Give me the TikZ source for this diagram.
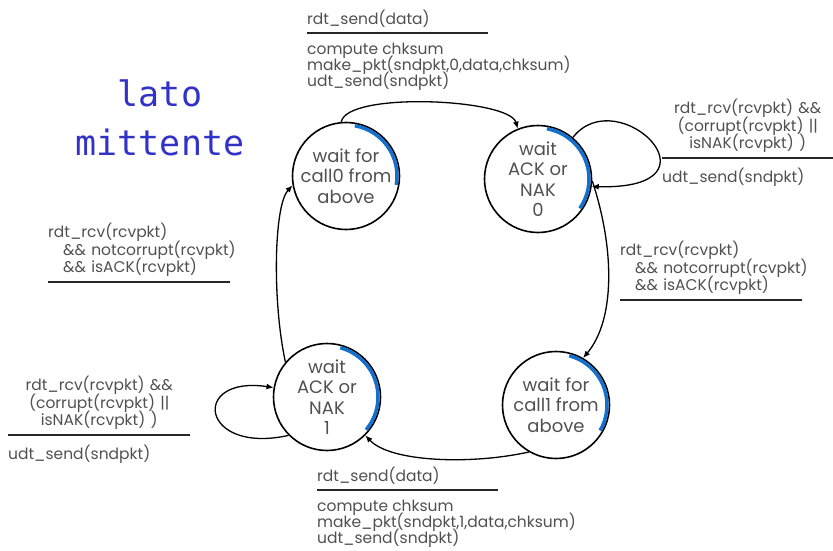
\documentclass[tikz,border=0pt]{standalone}
\usepackage{fontspec}
\setmainfont{Poppins}
\newfontfamily\monofont{DejaVu Sans Mono}
\usetikzlibrary{arrows.meta, positioning}
\definecolor{txtgray}{RGB}{80,80,80}
\definecolor{shadeblue}{RGB}{20,112,205}
\definecolor{titleblue}{RGB}{50,50,200}
\newcommand{\tight}[2]{\fontsize{#1}{#2}\selectfont\lineskiplimit=-20pt\hyphenpenalty=10000}
\tikzstyle{state}=[draw, circle, line width=1.6pt, minimum size=107pt, inner sep=0pt, align=center, text=txtgray, font=\tight{18}{20.5}]
\tikzstyle{cond}=[anchor=south west, inner xsep=0pt, inner ysep=5pt, text=txtgray, font=\tight{15.5}{17.5}]
\tikzstyle{act}=[anchor=north west, inner xsep=0pt, inner ysep=10pt, align=left, text=txtgray, font=\tight{15.5}{16}]
\tikzstyle{bar}=[line width=2.2pt, black!85]
\tikzstyle{edge}=[-{Latex[length=7pt,width=6pt]}, line width=1.3pt]
\tikzstyle{crescent}=[shadeblue, line width=3.5pt]
\newcommand{\ind}{\hspace*{15pt}}

\begin{document}
\begin{tikzpicture}[x=1pt,y=1pt]
  \useasboundingbox (0,0) rectangle (833,550);
  \node[text=titleblue, align=center, font=\monofont\fontsize{35}{49}\selectfont] (side) at (160,432) {lato\\mittente};
  % states
  \node[state] (call0) at (346,374) {wait for\\call0 from\\above};
  \node[state] (ack0) at (538,371) {wait\\ACK or\\NAK\\0};
  \node[state] (call1) at (556,145) {wait for\\call1 from\\above};
  \node[state] (ack1) at (327,153) {wait\\ACK or\\NAK\\1};
  \foreach \s/\a/\b in {call0/80/-10, ack0/80/-35, ack1/75/-40, call1/75/-30}
    \draw[crescent] (\s.center) ++(\a:51) arc (\a:\b:51);
  % transitions
  \draw[edge] (call0.95) to[out=80, in=105, looseness=0.45] (ack0.112);
  \draw[edge] (ack0.50) .. controls (618,470) and (730,360) .. (ack0.-8);
  \draw[edge] (ack0.-2) .. controls (615,300) and (615,230) .. (call1.60);
  \draw[edge] (call1.240) .. controls (470,85) and (390,88) .. (ack1.-45);
  \draw[edge] (ack1.-135) .. controls (200,95) and (190,175) .. (ack1.170);
  \draw[edge] (ack1.140) .. controls (272,250) and (274,345) .. (call0.190);
  % guards and actions
  \node[cond, text width=181pt, align=left] (g0) at (307,517) {rdt\_send(data)};
  \draw[bar] (g0.south west) -- (g0.south east);
  \node[act] (a0) at (g0.south west) {compute chksum\\make\_pkt(sndpkt,0,data,chksum)\\udt\_send(sndpkt)};
  \node[cond, text width=171pt, align=center] (g1) at (662,392) {rdt\_rcv(rcvpkt)~\&\&\\(corrupt(rcvpkt)~||\\isNAK(rcvpkt)~)};
  \draw[bar] (g1.south west) -- (g1.south east);
  \node[act] (a1) at (g1.south west) {udt\_send(sndpkt)};
  \node[cond, text width=182pt, align=left] (g2) at (620,250) {rdt\_rcv(rcvpkt)\\\ind\&\&~notcorrupt(rcvpkt)\\\ind\&\&~isACK(rcvpkt)};
  \draw[bar] (g2.south west) -- (g2.south east);
  \node[cond, text width=181pt, align=left] (g3) at (317,60) {rdt\_send(data)};
  \draw[bar] (g3.south west) -- (g3.south east);
  \node[act] (a3) at (g3.south west) {compute chksum\\make\_pkt(sndpkt,1,data,chksum)\\udt\_send(sndpkt)};
  \node[cond, text width=182pt, align=center] (g4) at (8,115) {rdt\_rcv(rcvpkt)~\&\&\\(corrupt(rcvpkt)~||\\isNAK(rcvpkt)~)};
  \draw[bar] (g4.south west) -- (g4.south east);
  \node[act] (a4) at (g4.south west) {udt\_send(sndpkt)};
  \node[cond, text width=182pt, align=left] (g5) at (48,268) {rdt\_rcv(rcvpkt)\\\ind\&\&~notcorrupt(rcvpkt)\\\ind\&\&~isACK(rcvpkt)};
  \draw[bar] (g5.south west) -- (g5.south east);
\end{tikzpicture}
\end{document}
